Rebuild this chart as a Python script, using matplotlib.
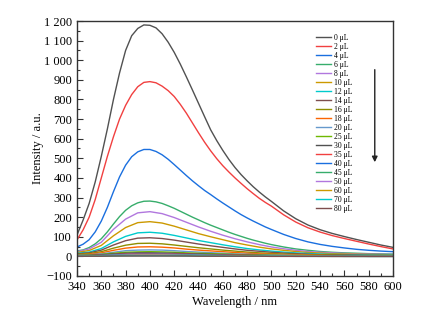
import numpy as np
import matplotlib
matplotlib.use("Agg")
import matplotlib.pyplot as plt
from matplotlib.ticker import MultipleLocator, FuncFormatter

plt.rcParams['font.family'] = ['Liberation Serif', 'DejaVu Serif']

# wavelength grids (nm): finer sampling for the four big curves
wl = np.arange(340, 601, 10)
wl_fine = np.concatenate([np.arange(340, 501, 5), np.arange(510, 601, 10)])

volumes = ["0", "2", "4", "6", "8", "10", "12", "14", "16", "18",
           "20", "25", "30", "35", "40", "45", "50", "60", "70", "80"]

# intensities (a.u.)
i_0 = [109, 185, 270, 380, 510, 650, 800, 935, 1050, 1125, 1162, 1180, 1178,
       1165, 1135, 1092, 1040, 980, 915, 848, 780, 712, 645, 590, 540, 494,
       453, 417, 385, 355, 328, 303, 280,
       232, 192, 160, 136, 117, 101, 86, 72, 58, 46]
i_2 = [84, 135, 200, 290, 400, 510, 610, 700, 770, 825, 865, 887, 891,
       885, 868, 845, 815, 775, 730, 680, 630, 582, 538, 498, 462, 430,
       400, 372, 345, 320, 296, 275, 256,
       212, 175, 146, 124, 106, 91, 77, 63, 50, 38]
i_4 = [48, 62, 85, 125, 180, 250, 330, 405, 465, 508, 533, 545, 545,
       535, 518, 495, 468, 440, 412, 385, 360, 336, 315, 293, 272, 252,
       232, 213, 196, 180, 165, 150, 137,
       112, 91, 74, 61, 51, 43, 36, 31, 27, 24]
i_6 = [28, 33, 45, 64, 90, 125, 165, 203, 235, 258, 273, 281, 282,
       278, 270, 258, 245, 230, 215, 200, 186, 172, 159, 147, 135, 123,
       112, 102, 92, 83, 75, 67, 60,
       48, 38, 31, 25, 21, 18, 16, 14, 13, 12]
i_8 = [24, 38, 72, 138, 190, 222, 228, 218, 198, 174, 150, 128, 108, 90, 74,
       60, 48, 39, 31, 25, 21, 18, 15, 13, 12, 11, 10]
i_10 = [20, 30, 56, 105, 147, 172, 177, 170, 154, 135, 116, 100, 85, 70, 58,
        47, 38, 31, 25, 20, 17, 14, 12, 11, 10, 9, 8]
i_12 = [16, 22, 40, 74, 102, 120, 123, 118, 107, 94, 81, 70, 59, 49, 40,
        33, 27, 22, 18, 15, 12, 10, 9, 8, 7, 6, 6]
i_14 = [13, 18, 32, 58, 80, 93, 95, 91, 83, 73, 63, 54, 46, 38, 31,
        26, 21, 17, 14, 11, 9, 8, 7, 6, 5, 5, 4]
i_16 = [10, 14, 24, 42, 57, 66, 67, 64, 58, 51, 44, 38, 32, 27, 22,
        18, 15, 12, 10, 8, 7, 6, 5, 4, 4, 3, 3]
i_18 = [8, 11, 18, 31, 42, 48, 49, 47, 43, 37, 32, 28, 24, 20, 16,
        13, 11, 9, 7, 6, 5, 4, 4, 3, 3, 2, 2]
i_20 = [6, 8, 13, 21, 29, 32, 33, 32, 29, 25, 22, 19, 16, 13, 11,
        9, 7, 6, 5, 4, 3, 3, 2, 2, 2, 1, 1]
i_25 = [5, 6, 10, 16, 21, 23, 24, 23, 21, 18, 16, 14, 12, 10, 8,
        7, 5, 4, 4, 3, 3, 2, 2, 2, 1, 1, 1]
i_30 = [4, 5, 8, 12, 16, 18, 18, 17, 16, 14, 12, 10, 9, 7, 6,
        5, 4, 3, 3, 2, 2, 2, 1, 1, 1, 1, 1]
i_35 = [3, 4, 6, 9, 12, 14, 14, 13, 12, 11, 9, 8, 7, 6, 5,
        4, 3, 3, 2, 2, 2, 1, 1, 1, 1, 1, 1]
i_40 = [3, 3, 5, 7, 10, 11, 11, 11, 10, 9, 7, 6, 5, 4, 4,
        3, 2, 2, 2, 1, 1, 1, 1, 1, 0, 0, 0]
i_45 = [2, 3, 4, 6, 8, 9, 9, 9, 8, 7, 6, 5, 4, 4, 3,
        2, 2, 2, 1, 1, 1, 1, 0, 0, 0, 0, 0]
i_50 = [2, 2, 3, 5, 6, 7, 7, 7, 6, 5, 5, 4, 3, 3, 2,
        2, 1, 1, 1, 1, 1, 0, 0, 0, 0, 0, 0]
i_60 = [1, 2, 2, 3, 4, 5, 5, 5, 4, 4, 3, 3, 2, 2, 2,
        1, 1, 1, 1, 1, 0, 0, 0, 0, 0, 0, 0]
i_70 = [1, 1, 2, 2, 3, 3, 3, 3, 3, 2, 2, 2, 2, 1, 1,
        1, 1, 1, 0, 0, 0, 0, 0, 0, 0, 0, 0]
i_80 = [1, 1, 1, 2, 2, 2, 2, 2, 2, 2, 1, 1, 1, 1, 1,
        1, 0, 0, 0, 0, 0, 0, 0, 0, 0, 0, 0]

series = [i_0, i_2, i_4, i_6, i_8, i_10, i_12, i_14, i_16, i_18,
          i_20, i_25, i_30, i_35, i_40, i_45, i_50, i_60, i_70, i_80]

palette = ['#515151', '#F14040', '#1A6FDF', '#37AD6B', '#B177DE', '#CC9900',
           '#00CBCC', '#7D4E4E', '#8E8E00', '#FB6501', '#6699CC', '#6FB802']

fig = plt.figure(figsize=(4.31, 3.21), dpi=100)
ax = fig.add_axes([77/431, 1 - 276/321, 316/431, 255/321])

for k, (v, y) in enumerate(zip(volumes, series)):
    x = wl_fine if len(y) == len(wl_fine) else wl
    ax.plot(x, y, color=palette[k % len(palette)], lw=1.0, label=f"{v} μL")

ax.set_xlim(340, 600)
ax.set_ylim(-100, 1200)
ax.xaxis.set_major_locator(MultipleLocator(20))
ax.xaxis.set_minor_locator(MultipleLocator(10))
ax.yaxis.set_major_locator(MultipleLocator(100))
ax.yaxis.set_minor_locator(MultipleLocator(50))


def fmt_y(val, pos):
    n = int(round(val))
    s = f"{abs(n):,}".replace(",", " ")
    return ("\u2212" + s) if n < 0 else s


ax.yaxis.set_major_formatter(FuncFormatter(fmt_y))
ax.tick_params(which='both', direction='in', top=False, right=False,
               labelsize=9, color='#333333')
ax.tick_params(which='major', length=4, width=0.8)
ax.tick_params(which='minor', length=2, width=0.8)
for sp in ax.spines.values():
    sp.set_linewidth(1.0)
    sp.set_color('#333333')

ax.set_xlabel("Wavelength / nm", fontsize=9, labelpad=2)
ax.set_ylabel("Intensity / a.u.", fontsize=9, labelpad=0)

ax.legend(loc='upper left', bbox_to_anchor=(0.755, 0.95), frameon=False,
          fontsize=5.5, labelspacing=0.13, handlelength=2.0, handletextpad=0.4,
          borderpad=0, borderaxespad=0)

ax.annotate("", xy=(585, 466), xytext=(585, 966),
            arrowprops=dict(arrowstyle='-|>', color='#222222', lw=1.0,
                            mutation_scale=8))

fig.savefig("out.png", dpi=100)
